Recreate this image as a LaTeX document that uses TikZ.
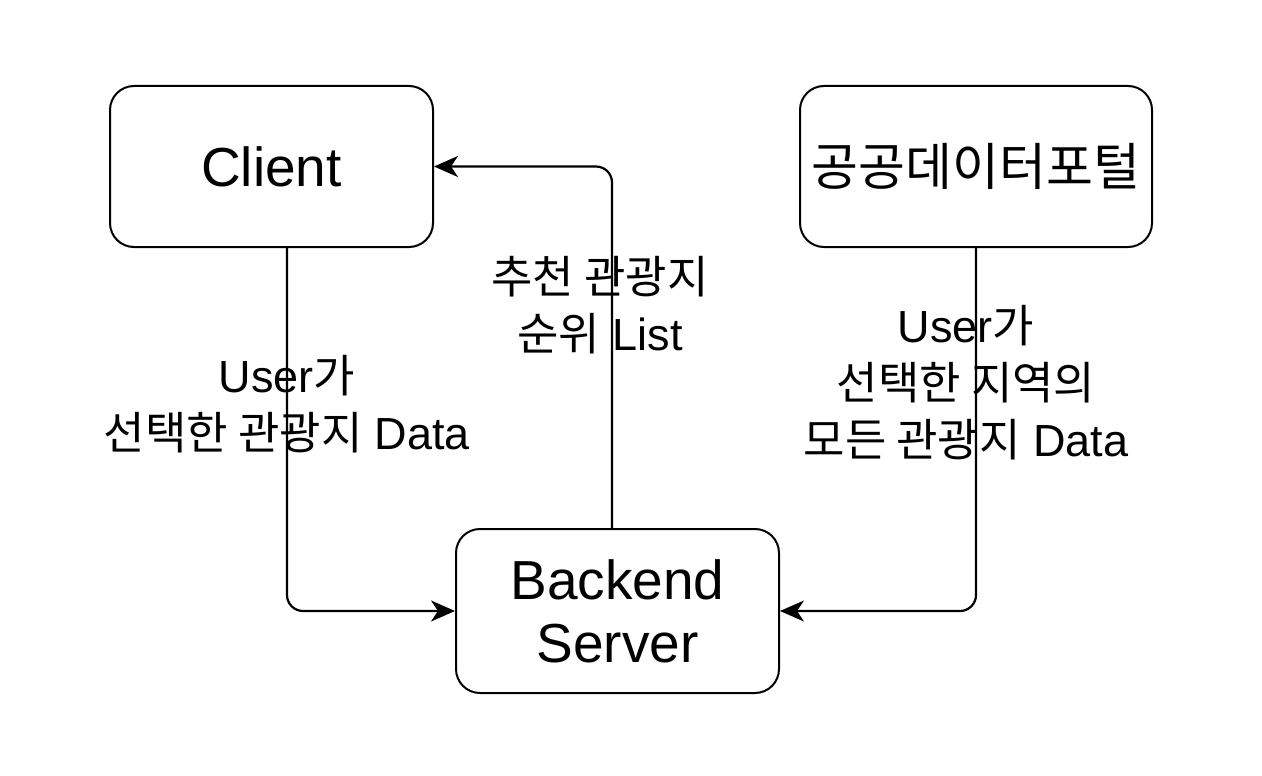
\documentclass[tikz,border=0pt]{standalone}
\usepackage{fontspec}
\setmainfont{Liberation Sans}
\newfontfamily\kr{Noto Sans CJK KR}
\usetikzlibrary{arrows.meta}
\newcommand{\ko}[1]{{\kr #1}}
\pgfdeclarelayer{edgelayer}
\pgfdeclarelayer{nodelayer}
\pgfsetlayers{edgelayer,nodelayer,main}
\tikzstyle{block}=[rectangle, rounded corners=24pt, draw=black, line width=2pt, fill=white, inner sep=0pt, align=center, font=\fontsize{55}{63}\selectfont]
\tikzstyle{flow}=[-{Stealth[length=24pt, width=21pt, inset=7pt]}, draw=black, line width=2.2pt, rounded corners=16pt]
\tikzstyle{tag}=[align=center, inner sep=0pt, font=\fontsize{45}{57}\selectfont]

\begin{document}
\begin{tikzpicture}[x=1pt, y=-1pt]
            \useasboundingbox (0, 0) rectangle (1262, 776);
            \begin{pgfonlayer}{nodelayer}
                \node [style=block, minimum width=323pt, minimum height=161pt] (client) at (271.5, 166.5) {Client};
                \node [style=block, minimum width=352pt, minimum height=161pt, font=\fontsize{51}{63}\selectfont] (portal) at (976, 166.5) {\ko{공공데이터포털}};
                \node [style=block, minimum width=323pt, minimum height=164pt] (backend) at (617.5, 611) {Backend\\Server};

                \node [style=tag] (choice) at (287, 404) {User\ko{가}\\\ko{선택한 관광지} Data};
                \node [style=tag] (ranking) at (600, 305) {\ko{추천 관광지}\\\ko{순위} List};
                \node [style=tag] (region) at (966, 383) {User\ko{가}\\\ko{선택한 지역의}\\\ko{모든 관광지} Data};
            \end{pgfonlayer}
            \begin{pgfonlayer}{edgelayer}
                \coordinate (out) at (612, 529);
                \draw [style=flow] (client.south -| choice) |- (backend.west);
                \draw [style=flow] (backend.north -| out) |- (client.east);
                \draw [style=flow] (portal.south) |- (backend.east);
            \end{pgfonlayer}
        \end{tikzpicture}
\end{document}
